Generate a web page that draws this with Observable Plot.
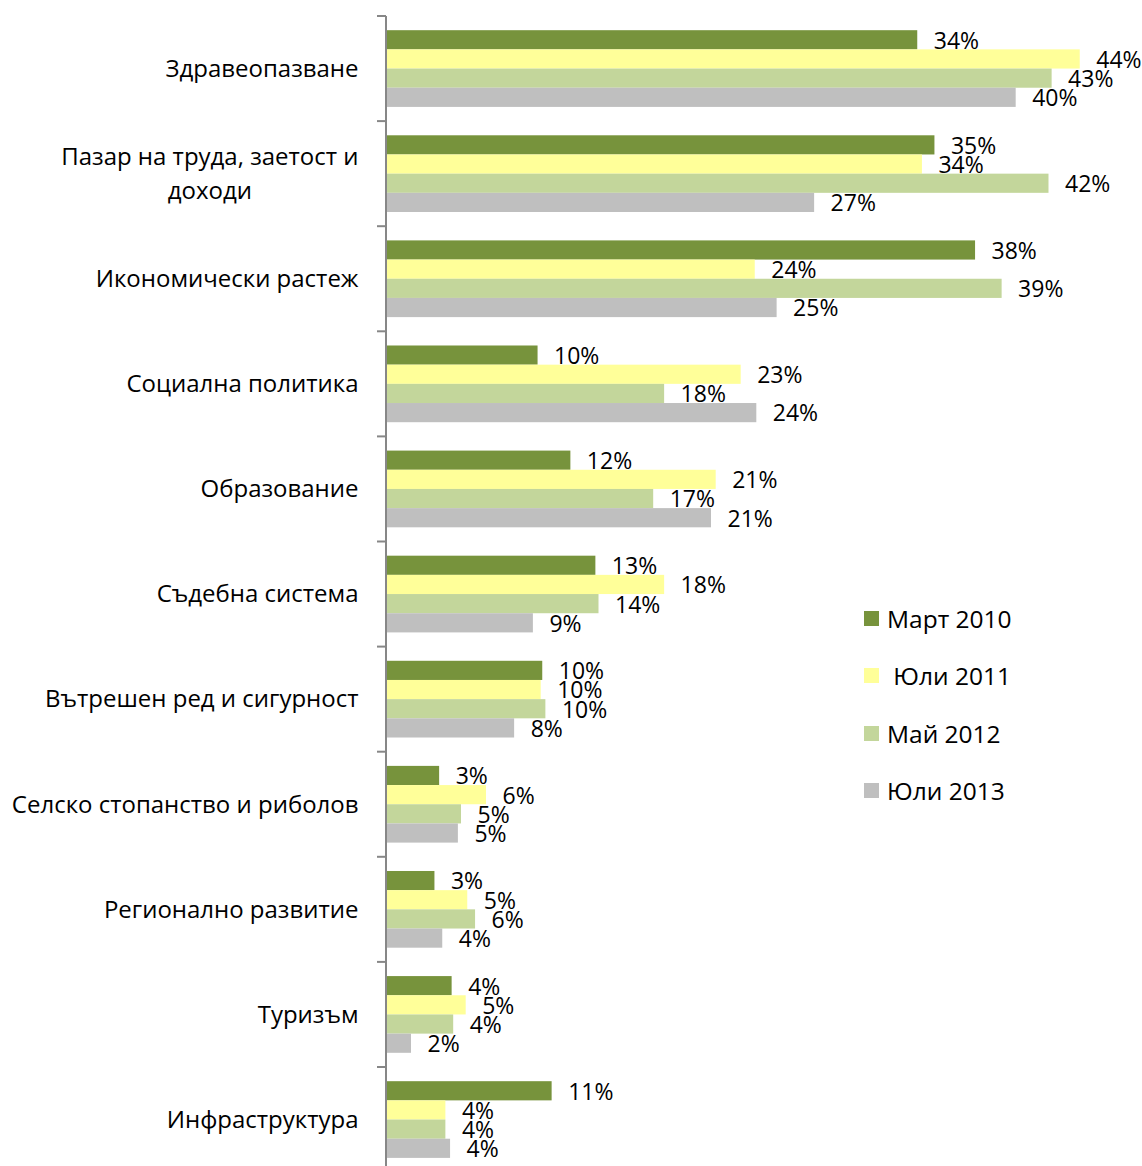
<!DOCTYPE html>
<html>
<head>
<meta charset="utf-8">
<script src="https://cdn.jsdelivr.net/npm/d3@7"></script>
<script src="https://cdn.jsdelivr.net/npm/@observablehq/plot@0.6"></script>
<style>
  html, body { margin: 0; padding: 0; background: #fff; overflow: hidden; }
  #wrap { position: relative; width: 1142px; height: 1166px; overflow: hidden; }
  #legend { position: absolute; left: 864px; top: 589.5px; font-family: "Open Sans"; font-size: 24.5px; color: #000; }
  #legend .row { height: 57.5px; display: flex; align-items: center; white-space: pre; }
  #legend .sw { width: 15px; height: 15px; margin-right: 8px; flex: none; }
</style>
</head>
<body>
<div id="wrap"></div>
<script>
// ---- data ----
const categories = [
  "Здравеопазване",
  "Пазар на труда, заетост и\nдоходи",
  "Икономически растеж",
  "Социална политика",
  "Образование",
  "Съдебна система",
  "Вътрешен ред и сигурност",
  "Селско стопанство и риболов",
  "Регионално развитие",
  "Туризъм",
  "Инфраструктура"
];
const series = ["Март 2010", "Юли 2011", "Май 2012", "Юли 2013"];
const legendLabels = ["Март 2010", " Юли 2011", "Май 2012", "Юли 2013"];
const mart2010 = [34.0, 35.1, 37.7, 9.7, 11.8, 13.4, 10.0, 3.4, 3.1, 4.2, 10.6];
const yuli2011 = [44.4, 34.3, 23.6, 22.7, 21.1, 17.8, 9.9, 6.4, 5.2, 5.1, 3.8];
const mai2012  = [42.6, 42.4, 39.4, 17.8, 17.1, 13.6, 10.2, 4.8, 5.7, 4.3, 3.8];
const yuli2013 = [40.3, 27.4, 25.0, 23.7, 20.8, 9.4, 8.2, 4.6, 3.6, 1.6, 4.1];
const colors = ["#77933C", "#FFFF99", "#C3D69B", "#BFBFBF"];

const seriesValues = [mart2010, yuli2011, mai2012, yuli2013];
const rows = categories.flatMap((c, i) =>
  series.map((s, j) => ({category: c, series: s, value: seriesValues[j][i]}))
);

// ---- layout ----
const W = 1142, ML = 386, MR = 6, MT = 16, FH = 105.1;
const H = MT + FH * categories.length;
const FONT = '"Open Sans"';

const chart = Plot.plot({
  width: W,
  height: H,
  marginLeft: ML,
  marginRight: MR,
  marginTop: MT,
  marginBottom: 0,
  style: {fontFamily: FONT, fontSize: "22px", overflow: "visible", background: "#fff", color: "#000"},
  x: {domain: [0, 48], axis: null},
  y: {domain: series, axis: null, paddingInner: 0, paddingOuter: 0.74, round: false},
  fy: {domain: categories, padding: 0, label: null, round: false},
  color: {domain: series, range: colors},
  marks: [
    Plot.barX(rows, {x: "value", y: "series", fy: "category", fill: "series"}),
    Plot.text(rows, {
      x: "value", y: "series", fy: "category",
      text: d => Math.round(d.value) + "%",
      textAnchor: "start", dx: 16, dy: 1, fill: "#000", fontSize: 23
    }),
    Plot.axisFy({anchor: "left", tickSize: 0, tickPadding: 28, label: null, fontSize: 24, lineHeight: 1.4, dy: -3, fill: "#000"})
  ]
});

document.getElementById("wrap").appendChild(chart);

// center-align multi-line category labels as a block (right edge kept)
d3.select(chart).selectAll("text").each(function() {
  const tspans = this.querySelectorAll("tspan");
  if (tspans.length > 1) {
    const bb = this.getBBox();
    const right = bb.x + bb.width;
    this.setAttribute("text-anchor", "middle");
    tspans.forEach(ts => ts.setAttribute("x", right - bb.width / 2));
  }
});

// category axis line + boundary ticks from the fy scale
const fy = chart.scale("fy");
const svg = d3.select(chart);
const bounds = categories.map(c => fy.apply(c)).concat([fy.apply(categories[categories.length - 1]) + fy.bandwidth]);
const g = svg.append("g").attr("stroke", "#878787").attr("stroke-width", 2);
g.append("line").attr("x1", ML).attr("x2", ML).attr("y1", bounds[0]).attr("y2", bounds[bounds.length - 1]);
g.selectAll("line.t").data(bounds).join("line").attr("class", "t")
  .attr("x1", ML - 9).attr("x2", ML).attr("y1", d => d).attr("y2", d => d);

// legend
const legend = d3.select("#wrap").append("div").attr("id", "legend");
legendLabels.forEach((label, i) => {
  const row = legend.append("div").attr("class", "row");
  row.append("div").attr("class", "sw").style("background", colors[i]);
  row.append("span").text(label);
});
</script>
</body>
</html>
